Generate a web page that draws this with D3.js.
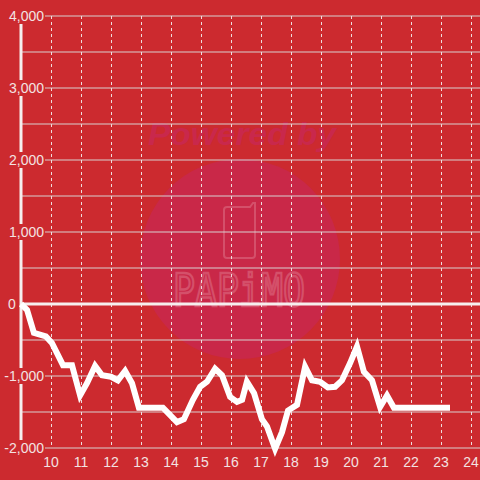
<!DOCTYPE html>
<html><head><meta charset="utf-8">
<script src="https://cdn.jsdelivr.net/npm/d3@7"></script>
<style>html,body{margin:0;padding:0;background:#cc2a2f;}svg{display:block;}</style>
</head><body>
<script>
const xVals = [9, 9.2, 9.43, 9.83, 10.03, 10.4, 10.7, 10.97, 11.2, 11.47, 11.7, 12, 12.23, 12.47, 12.7, 12.93, 13.73, 14.2, 14.43, 14.73, 14.97, 15.2, 15.47, 15.7, 15.97, 16.2, 16.37, 16.53, 16.77, 17.03, 17.2, 17.47, 17.7, 17.9, 18.2, 18.47, 18.7, 18.97, 19.23, 19.47, 19.7, 19.97, 20.2, 20.43, 20.7, 20.97, 21.2, 21.43, 23.3];
const yVals = [0, -80, -400, -450, -540, -850, -850, -1270, -1100, -860, -990, -1010, -1060, -930, -1100, -1440, -1440, -1640, -1600, -1330, -1150, -1080, -900, -990, -1290, -1360, -1330, -1080, -1240, -1600, -1700, -2010, -1780, -1480, -1400, -870, -1060, -1080, -1160, -1150, -1060, -820, -590, -940, -1060, -1430, -1270, -1440, -1440];
const yTicks = [-2000, -1000, 0, 1000, 2000, 3000, 4000];
const yGrid = [-2000, -1500, -1000, -500, 0, 500, 1000, 1500, 2000, 2500, 3000, 3500, 4000];
const xTicks = [10, 11, 12, 13, 14, 15, 16, 17, 18, 19, 20, 21, 22, 23, 24];

const W = 480, H = 480, bg = "#cc2a2f";
const x = d3.scaleLinear().domain([9, 24.3]).range([21, 480]);
const y = d3.scaleLinear().domain([-2000, 4000]).range([448, 16]);

const svg = d3.select("body").append("svg").attr("width", W).attr("height", H);
svg.append("rect").attr("width", W).attr("height", H).attr("fill", bg);

// watermark
const wm = svg.append("g");
wm.append("circle").attr("cx", 240).attr("cy", 259).attr("r", 100).attr("fill", "#c92848");
wm.append("text").attr("x", 242).attr("y", 145).attr("text-anchor", "middle")
  .attr("textLength", 188).attr("lengthAdjust", "spacingAndGlyphs")
  .attr("font-family", "Liberation Sans, Arial, sans-serif").attr("font-size", 31)
  .attr("font-weight", "bold").attr("font-style", "italic").attr("fill", "#c9284c")
  .text("Powered by");
wm.append("path").attr("d", "M227,207 h23 l3,-4 h2 v52 a3,3 0 0 1 -3,3 h-25 a3,3 0 0 1 -3,-3 v-45 a3,3 0 0 1 3,-3 z")
  .attr("fill", "none").attr("stroke", "#d4506a").attr("stroke-width", 2);
wm.append("text").attr("x", 173).attr("y", 306).attr("textLength", 132).attr("lengthAdjust", "spacingAndGlyphs")
  .attr("font-family", "DejaVu Sans Mono, monospace").attr("font-size", 44).attr("font-weight", "normal")
  .attr("fill", "none").attr("stroke", "#d4506a").attr("stroke-width", 2.5)
  .text("PAPiMO");

// horizontal gridlines
svg.append("g").selectAll("line").data(yGrid.filter(d => d !== 0)).join("line")
  .attr("x1", 21).attr("x2", W).attr("y1", d => y(d)).attr("y2", d => y(d))
  .attr("stroke", "#d8d0d0").attr("stroke-width", 1.2);
// vertical dashed gridlines
svg.append("g").selectAll("line").data(xTicks).join("line")
  .attr("x1", d => Math.round(x(d)) + 0.5).attr("x2", d => Math.round(x(d)) + 0.5)
  .attr("y1", 16).attr("y2", 448)
  .attr("stroke", "#eedede").attr("stroke-width", 1).attr("stroke-dasharray", "3,3");
// zero line
svg.append("line").attr("x1", 21).attr("x2", W).attr("y1", y(0)).attr("y2", y(0))
  .attr("stroke", "#f6eeee").attr("stroke-width", 3);
// y axis line
svg.append("line").attr("x1", 21).attr("x2", 21).attr("y1", 16).attr("y2", 448)
  .attr("stroke", "#f6eeee").attr("stroke-width", 3);

// data line
const line = d3.line().x((d, i) => x(xVals[i])).y(d => y(d));
svg.append("path").datum(yVals).attr("d", line)
  .attr("fill", "none").attr("stroke", "#ffffff").attr("stroke-width", 6)
  .attr("stroke-linejoin", "miter");

// y labels with background masks
const fmt = d3.format(",");
const yl = svg.append("g").selectAll("g").data(yTicks).join("g")
  .attr("transform", d => `translate(0,${y(d)})`);
yl.append("rect").attr("x", d => d === 0 ? 6 : 2).attr("y", -8)
  .attr("width", d => d === 0 ? 13 : 43).attr("height", 16).attr("fill", bg);
yl.append("text").attr("x", d => d === 0 ? 8 : 44).attr("dy", "0.35em")
  .attr("text-anchor", d => d === 0 ? "start" : "end")
  .attr("font-family", "Liberation Sans, Arial, sans-serif").attr("font-size", 14)
  .attr("fill", "#f3e2e2").text(d => fmt(d).replace("−", "-"));

// x labels
svg.append("g").selectAll("text").data(xTicks).join("text")
  .attr("x", d => x(d)).attr("y", 467).attr("text-anchor", "middle")
  .attr("font-family", "Liberation Sans, Arial, sans-serif").attr("font-size", 14)
  .attr("fill", "#f3e2e2").text(d => d);
</script>
</body></html>
